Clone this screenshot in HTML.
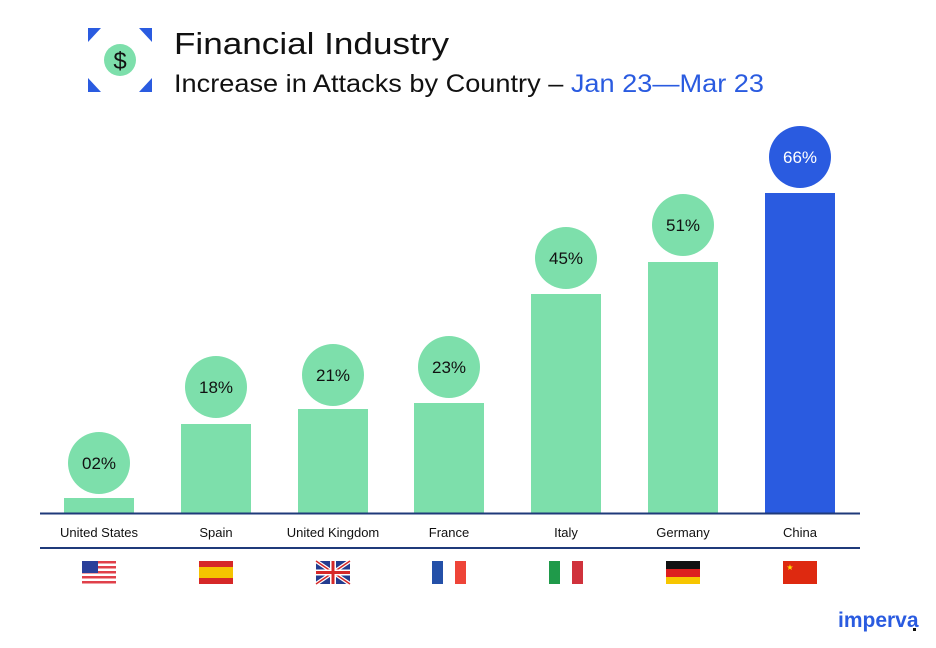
<!DOCTYPE html>
<html><head><meta charset="utf-8"><style>
html,body{margin:0;padding:0;background:#fff;}
svg{display:block;}
text{font-family:"Liberation Sans",sans-serif;}
</style></head><body>
<svg width="936" height="648" viewBox="0 0 936 648" xmlns="http://www.w3.org/2000/svg">
<rect width="936" height="648" fill="#fff"/>
<g fill="#2a5be0">
<polygon points="88,28 101,28 88,42"/>
<polygon points="152,28 139,28 152,42"/>
<polygon points="88,92 101,92 88,78"/>
<polygon points="152,92 139,92 152,78"/>
</g>
<circle cx="120" cy="60" r="16" fill="#7ddfab"/>
<text x="120" y="69" font-size="24" text-anchor="middle" fill="#111">$</text>
<text x="174" y="54" font-size="31" fill="#111" textLength="275" lengthAdjust="spacingAndGlyphs">Financial Industry</text>
<text x="174" y="92" font-size="25" fill="#111" textLength="590" lengthAdjust="spacingAndGlyphs">Increase in Attacks by Country – <tspan fill="#2a5be0">Jan 23—Mar 23</tspan></text>
<g fill="#7ddfab">
<rect x="64" y="498" width="70" height="15"/>
<rect x="181" y="424" width="70" height="89"/>
<rect x="298" y="409" width="70" height="104"/>
<rect x="414" y="403" width="70" height="110"/>
<rect x="531" y="294" width="70" height="219"/>
<rect x="648" y="262" width="70" height="251"/>
<circle cx="99" cy="463" r="31"/>
<circle cx="216" cy="387" r="31"/>
<circle cx="333" cy="375" r="31"/>
<circle cx="449" cy="367" r="31"/>
<circle cx="566" cy="258" r="31"/>
<circle cx="683" cy="225" r="31"/>
</g>
<rect x="765" y="193" width="70" height="320" fill="#2a5be0"/>
<circle cx="800" cy="157" r="31" fill="#2a5be0"/>
<g font-size="17" text-anchor="middle" fill="#111">
<text x="99" y="469">02%</text>
<text x="216" y="393">18%</text>
<text x="333" y="381">21%</text>
<text x="449" y="373">23%</text>
<text x="566" y="264">45%</text>
<text x="683" y="231">51%</text>
<text x="800" y="163" fill="#fff">66%</text>
</g>
<line x1="40" y1="513.5" x2="860" y2="513.5" stroke="#1f3a7a" stroke-width="2"/>
<line x1="40" y1="548" x2="860" y2="548" stroke="#1f3a7a" stroke-width="2"/>
<g font-size="13" text-anchor="middle" fill="#111">
<text x="99" y="537">United States</text>
<text x="216" y="537">Spain</text>
<text x="333" y="537">United Kingdom</text>
<text x="449" y="537">France</text>
<text x="566" y="537">Italy</text>
<text x="683" y="537">Germany</text>
<text x="800" y="537">China</text>
</g>
<g>
<rect x="82" y="561" width="34" height="23" fill="#fff"/>
<g fill="#e0404a"><rect x="82" y="561" width="34" height="2.5"/><rect x="82" y="566" width="34" height="2.5"/><rect x="82" y="571" width="34" height="2.5"/><rect x="82" y="576" width="34" height="2.5"/><rect x="82" y="581" width="34" height="2.5"/></g>
<rect x="82" y="561" width="16" height="12" fill="#2a3f9a"/>
<rect x="199" y="561" width="34" height="23" fill="#d62828"/>
<rect x="199" y="567" width="34" height="11" fill="#f5c400"/>
<rect x="316" y="561" width="34" height="23" fill="#243c8f"/>
<path d="M316,561 L350,584 M350,561 L316,584" stroke="#fff" stroke-width="4"/>
<path d="M316,561 L350,584 M350,561 L316,584" stroke="#d62828" stroke-width="1.5"/>
<rect x="316" y="569.5" width="34" height="6" fill="#fff"/><rect x="330" y="561" width="6" height="23" fill="#fff"/>
<rect x="316" y="571" width="34" height="3" fill="#d62828"/><rect x="331.5" y="561" width="3" height="23" fill="#d62828"/>
<rect x="432" y="561" width="11" height="23" fill="#2450a8"/><rect x="455" y="561" width="11" height="23" fill="#ee4438"/>
<rect x="549" y="561" width="11" height="23" fill="#1f9a4a"/><rect x="572" y="561" width="11" height="23" fill="#d0323c"/>
<rect x="666" y="561" width="34" height="8" fill="#111"/><rect x="666" y="569" width="34" height="8" fill="#dd1f1f"/><rect x="666" y="577" width="34" height="7" fill="#f7c600"/>
<rect x="783" y="561" width="34" height="23" fill="#de2910"/>
<text x="790" y="570" font-size="8" fill="#ffde00" text-anchor="middle">★</text>
</g>
<text x="838" y="627" font-size="21" font-weight="bold" fill="#2a5be0">imperva</text>
<rect x="913" y="628" width="3" height="3" fill="#111"/>
</svg>
</body></html>
